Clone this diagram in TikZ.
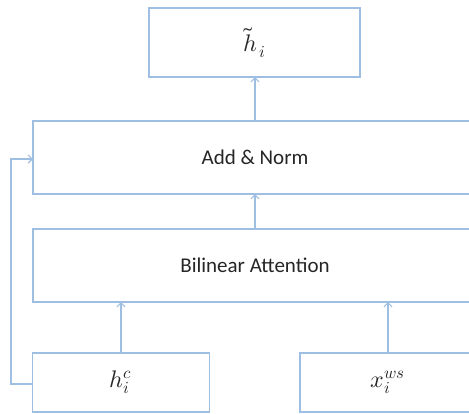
\documentclass[tikz,border=0pt]{standalone}
\usepackage{unicode-math}
\setmainfont{Carlito}
\usetikzlibrary{arrows.meta}
\definecolor{boxblue}{RGB}{158,190,226}
\begin{document}
\begin{tikzpicture}[x=1pt,y=-1pt,
  blk/.style={draw=boxblue, line width=1.5pt, fill=white, inner sep=0pt, outer sep=0pt},
  arr/.style={draw=boxblue, line width=1.4pt, -{Straight Barb[length=4pt,width=8pt,line width=1.2pt]}},
  lab/.style={font=\fontsize{21}{25}\selectfont, text=black!85},
  mlab/.style={font=\fontsize{24}{28}\selectfont, text=black!85}]
\useasboundingbox (0,0) rectangle (469,413);
\clip (0,0) rectangle (469,413);
\node[blk, minimum width=211pt, minimum height=69pt, mlab] (top) at (254.5,42.5) {$\tilde{h}_{\,i}$};
\node[blk, minimum width=444pt, minimum height=73pt, lab] (add) at (255,157.5) {Add \& Norm};
\node[blk, minimum width=444pt, minimum height=73pt, lab] (bil) at (255,265.5) {Bilinear Attention};
\node[blk, minimum width=177pt, minimum height=59pt, mlab] (h) at (121,382.5) {$h_i^c$};
\node[blk, minimum width=176pt, minimum height=59pt, mlab] (x) at (388,382.5) {$x_i^{ws}$};
\coordinate (s1) at (11,384);
\coordinate (s2) at (11,159);
\draw[arr] (h.north) -- (h.north |- bil.south);
\draw[arr] (x.north) -- (x.north |- bil.south);
\draw[arr] (bil.north) -- (add.south);
\draw[arr] (add.north) -- (add.north |- top.south);
\draw[arr] (h.west |- s1) -- (s1) -- (s2) -- (add.west |- s2);
\end{tikzpicture}
\end{document}
